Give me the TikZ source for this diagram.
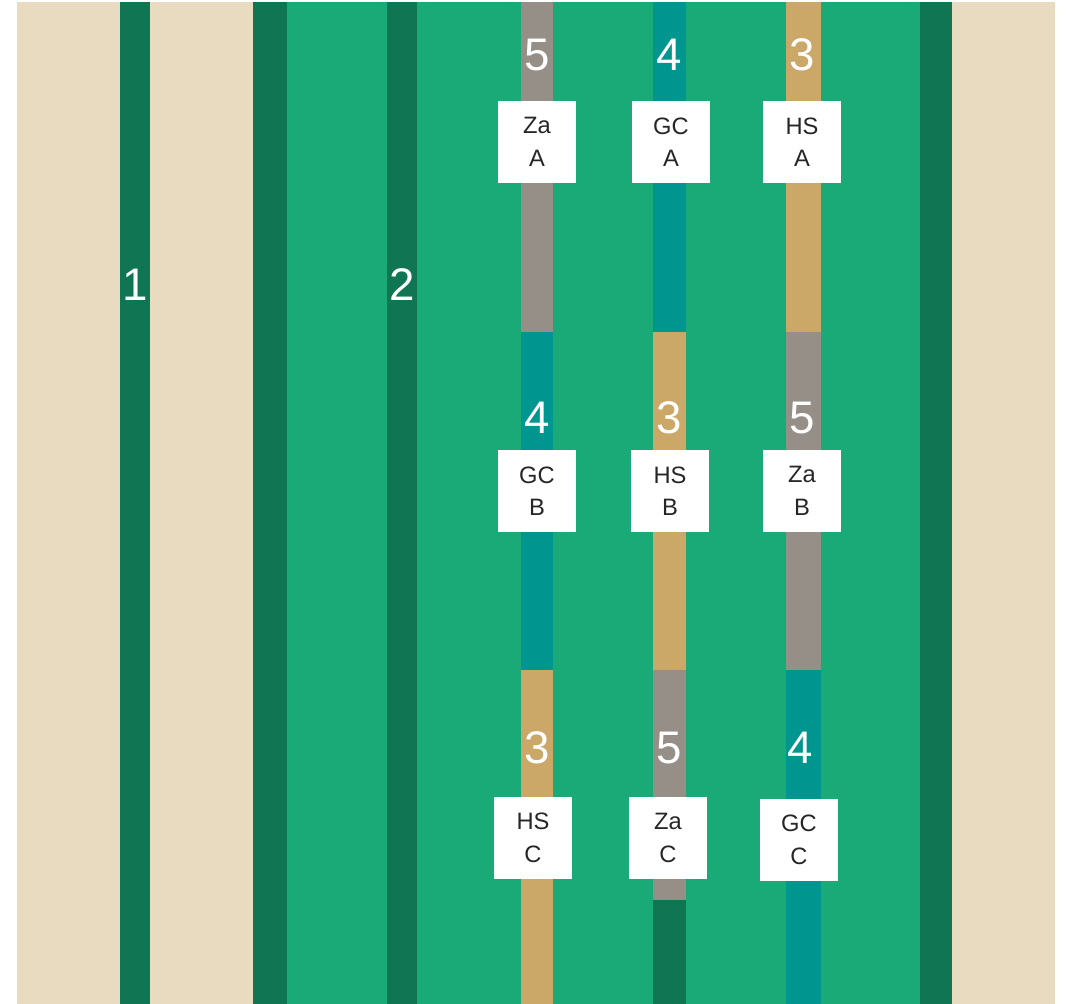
\documentclass[tikz,border=0pt]{standalone}
\usepackage{fontspec}
\setmainfont{Liberation Sans}
\definecolor{laneSand}{HTML}{E8DBC0}
\definecolor{laneDark}{HTML}{107552}
\definecolor{laneGreen}{HTML}{1AAA78}
\definecolor{laneTeal}{HTML}{009690}
\definecolor{laneGray}{HTML}{968F87}
\definecolor{laneTan}{HTML}{CBA768}
\usetikzlibrary{positioning}

\tikzset{
   tagbox/.style={fill=white, draw=none, minimum width=1.56cm, minimum height=1.64cm,
      inner sep=0pt, align=center, font=\fontsize{13.5}{18.5}\selectfont, text=black!85},
   lanenum/.style={text=white, inner sep=0pt, font=\fontsize{26}{30}\selectfont}
}

\begin{document}
\begin{tikzpicture}[x=0.02cm, y=-0.02cm]
            \useasboundingbox (0,0) rectangle (1069,1004);
            \fill[laneSand] (17,2) rectangle (1055,1004);
            \fill[laneGreen] (253,2) rectangle (952,1004);
            \fill[laneDark] (120,2) rectangle (150,1004);
            \fill[laneDark] (253,2) rectangle (287,1004);
            \fill[laneDark] (387,2) rectangle (417,1004);
            \fill[laneDark] (920,2) rectangle (952,1004);
            % three coloured lanes
            \foreach \l/\r/\ca/\cb/\cc in {521/553/laneGray/laneTeal/laneTan,
                  653/686/laneTeal/laneTan/laneGray, 786/821/laneTan/laneGray/laneTeal} {
               \fill[\ca] (\l,2) rectangle (\r,332);
               \fill[\cb] (\l,332) rectangle (\r,670);
               \fill[\cc] (\l,670) rectangle (\r,1004);
            }
            \fill[laneDark] (653,900) rectangle (686,1004);
            \node[lanenum] (one) at (135,285) {1};
            \node[lanenum] (two) at (402,285) {2};
            \foreach \n/\x/\y/\t in {a5/537/55/5, a4/669/55/4, a3/802/55/3,
                  b4/537/418/4, b3/669/418/3, b5/802/418/5,
                  c3/537/748/3, c5/669/748/5, c4/800/748/4}
               \node[lanenum] (num-\n) at (\x,\y) {\t};
            \foreach \n/\x/\y/\t in {zaA/537/142/Za, gcA/671/142/GC, hsA/802/142/HS,
                  gcB/537/491/GC, hsB/670/491/HS, zaB/802/491/Za}
               \node[tagbox] (\n) at (\x,\y) {\t\\\ifnum\y<300 A\else B\fi};
            \node[tagbox] (hsC) at (533,838) {HS\\C};
            \node[tagbox] (zaC) at (668,838) {Za\\C};
            \node[tagbox] (gcC) at (799,840) {GC\\C};
         \end{tikzpicture}
\end{document}
